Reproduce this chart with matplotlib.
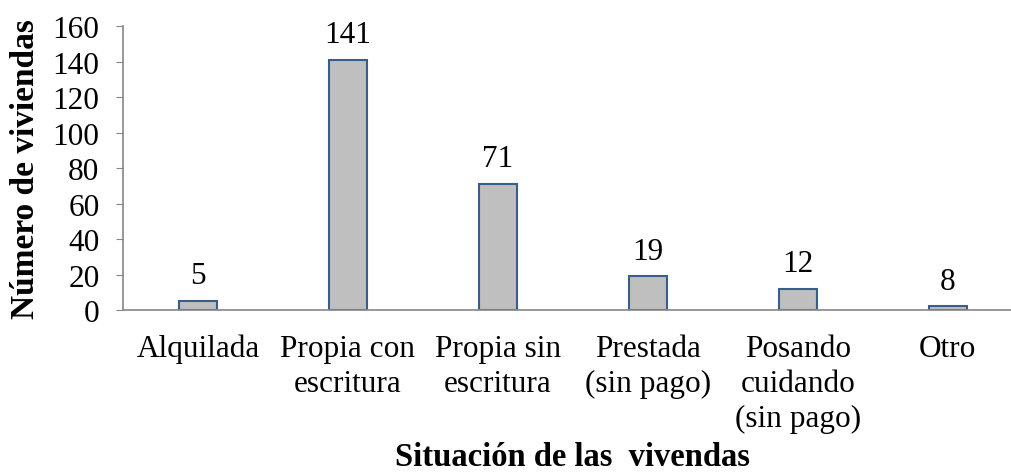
import matplotlib
matplotlib.use('Agg')
import matplotlib.pyplot as plt

# Data
categories = ['Alquilada', 'Propia con\nescritura', 'Propia sin\nescritura',
              'Prestada\n(sin pago)', 'Posando\ncuidando\n(sin pago)', 'Otro']
values = [5, 141, 71, 19, 12, 2]
value_labels = ['5', '141', '71', '19', '12', '8']

plt.rcParams['font.family'] = ['Liberation Serif', 'DejaVu Serif']

fig = plt.figure(figsize=(10.11, 4.77), dpi=100)
ax = fig.add_axes([0.1217, 0.348, 0.890, 0.595])

x = range(len(categories))
bars = ax.bar(x, values, width=0.255, color='#BFBFBF', edgecolor='#3A5E8C', linewidth=1.5)

# Data labels
for b, lab in zip(bars, value_labels):
    ax.text(b.get_x() + b.get_width() / 2, b.get_height() + 6, lab,
            ha='center', va='bottom', fontsize=22.5)

ax.set_xlim(-0.5, len(categories) - 0.5)
ax.set_ylim(0, 160)
ax.set_yticks(range(0, 161, 20))
ax.set_xticks(list(x))
ax.set_xticklabels(categories, fontsize=22.5, linespacing=1.28)
ax.tick_params(axis='y', labelsize=22.5, length=5, color='#868686', pad=12)
ax.tick_params(axis='x', length=0, pad=17)

for s in ['top', 'right']:
    ax.spines[s].set_visible(False)
for s in ['left', 'bottom']:
    ax.spines[s].set_color('#868686')
    ax.spines[s].set_linewidth(1.2)

ax.set_ylabel('Número de viviendas', fontsize=24, fontweight='bold', labelpad=8)
ax.set_xlabel('Situación de las  vivendas', fontsize=23.5, fontweight='bold')
ax.xaxis.set_label_coords(0.5, -0.46)

fig.savefig('out.png', dpi=100)
